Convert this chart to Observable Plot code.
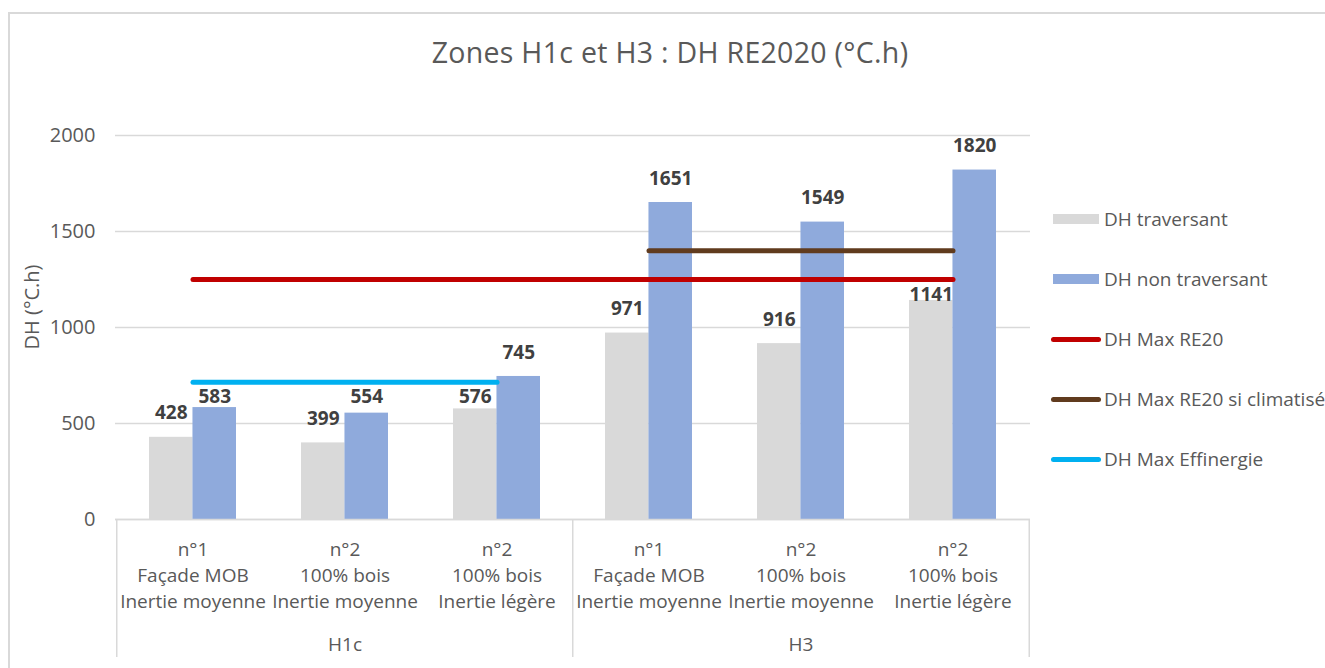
<!DOCTYPE html>
<html>
<head>
<meta charset="utf-8">
<script src="https://cdn.jsdelivr.net/npm/d3@7"></script>
<script src="https://cdn.jsdelivr.net/npm/@observablehq/plot@0.6"></script>
<style>
  body { margin: 0; background: #fff; }
  #wrap { position: relative; width: 1325px; height: 668px; overflow: hidden; background: #fff; font-family: "Open Sans", sans-serif; color: #595959; }
  #frame { position: absolute; left: 8px; top: 12px; width: 1400px; height: 700px; border-left: 2.5px solid #d9d9d9; border-top: 2.5px solid #d9d9d9; }
  #title { position: absolute; left: 0; top: 34px; width: 1340px; text-align: center; font-size: 28.5px; letter-spacing: 0.3px; line-height: 36px; color: #595959; }
  #chart { position: absolute; left: 0; top: 0; }
  #legend { position: absolute; left: 1050px; top: 0; }
  .item { position: absolute; left: 0; height: 30px; white-space: nowrap; font-size: 19px; line-height: 30px; color: #595959; }
  .sw { position: absolute; left: 2px; }
  .lbl { position: absolute; left: 54px; top: 0; }
</style>
</head>
<body>
<div id="wrap">
  <div id="frame"></div>
  <div id="title">Zones H1c et H3 : DH RE2020 (°C.h)</div>
  <div id="chart"></div>
  <div id="legend"></div>
</div>
<script>
// ---------- data ----------
const zones = ["H1c", "H1c", "H1c", "H3", "H3", "H3"];
const configurations = [
  "n°1\nFaçade MOB\nInertie moyenne",
  "n°2\n100% bois\nInertie moyenne",
  "n°2\n100% bois\nInertie légère",
  "n°1\nFaçade MOB\nInertie moyenne",
  "n°2\n100% bois\nInertie moyenne",
  "n°2\n100% bois\nInertie légère"
];
const dhTraversant    = [428, 399, 576, 971, 916, 1141];
const dhNonTraversant = [583, 554, 745, 1651, 1549, 1820];
const dhMaxRE20       = [1250, 1250, 1250, 1250, 1250, 1250];
const dhMaxRE20Clim   = [null, null, null, 1400, 1400, 1400];
const dhMaxEffinergie = [715, 715, 715, null, null, null];
const yTicks = [0, 500, 1000, 1500, 2000];
const seriesNames = ["DH traversant", "DH non traversant", "DH Max RE20", "DH Max RE20 si climatisé", "DH Max Effinergie"];

// ---------- layout / style ----------
const W = 1325, H = 668, ML = 115, MR = 295, MT = 135, MB = 149;
const PAD_INNER = 0.43;
const step = (W - ML - MR) / zones.length;
const bw = step * (1 - PAD_INNER);
const pxPerUnit = (H - MT - MB) / (yTicks[yTicks.length - 1] - yTicks[0]);
const colors = {
  trav: "#d9d9d9", nontrav: "#8faadc",
  re20: "#c00000", clim: "#603b1e", eff: "#00b0f0"
};
const LABEL_DY = -24, BELOW_LINE_DY = 15;

const keys = zones.map((z, i) => z + "|" + configurations[i]);

const bars = [];
keys.forEach((k, i) => {
  bars.push({key: k, i, series: "trav", value: dhTraversant[i]});
  bars.push({key: k, i, series: "nontrav", value: dhNonTraversant[i]});
});

const lineSeries = [
  {name: "re20", values: dhMaxRE20},
  {name: "clim", values: dhMaxRE20Clim},
  {name: "eff", values: dhMaxEffinergie}
];
const lineRows = lineSeries.map(s => keys.map((k, i) => ({key: k, v: s.values[i]})));

// label placement: avoid overlapping a threshold line (moved just below it)
const labels = bars.map(b => {
  const centerPx = b.value * pxPerUnit - LABEL_DY;
  let anchor = b.value, dy = LABEL_DY;
  for (const s of lineSeries) {
    const L = s.values[b.i];
    if (L != null && Math.abs(centerPx - L * pxPerUnit) < 13) { anchor = L; dy = BELOW_LINE_DY; }
  }
  return {...b, anchor, dy};
});

// zone group labels and separators
const zoneNames = [...new Set(zones)];
const zoneLabels = zoneNames.map(z => {
  const ks = keys.filter((k, i) => zones[i] === z);
  return {key: ks[Math.floor(ks.length / 2)], name: z};
});
const zoneStarts = zoneNames.map(z => keys[zones.indexOf(z)]);

const textMark = (data, dx, dy) => Plot.text(data, {
  x: "key", y: "anchor", text: d => String(d.value), dx, dy,
  fontSize: 19, fontWeight: "bold", fill: "#404040"
});

const chart = Plot.plot({
  width: W, height: H,
  marginLeft: ML, marginRight: MR, marginTop: MT, marginBottom: MB,
  style: {fontFamily: "'Open Sans', sans-serif", fontSize: "19px", color: "#595959", background: "transparent", overflow: "visible"},
  x: {type: "band", domain: keys, paddingInner: PAD_INNER, paddingOuter: PAD_INNER / 2},
  y: {domain: [0, 2000]},
  marks: [
    Plot.gridY(yTicks, {stroke: "#d9d9d9", strokeOpacity: 1, strokeWidth: 1.3}),
    Plot.axisY({ticks: yTicks, tickSize: 0, tickPadding: 20, fontSize: 20, tickFormat: d => String(d), label: null}),
    Plot.barY(bars.filter(d => d.series === "trav"), {x: "key", y: "value", fill: colors.trav, insetRight: bw / 2}),
    Plot.barY(bars.filter(d => d.series === "nontrav"), {x: "key", y: "value", fill: colors.nontrav, insetLeft: bw / 2}),
    Plot.ruleY([0], {stroke: "#d9d9d9", strokeWidth: 1.5}),
    ...lineSeries.map((s, j) => Plot.lineY(lineRows[j], {x: "key", y: "v", stroke: colors[s.name], strokeWidth: 5, strokeLinecap: "round"})),
    ...["trav", "nontrav"].flatMap(s => {
      const ls = labels.filter(d => d.series === s);
      const dx = s === "trav" ? -bw / 4 : bw / 4;
      return [
        textMark(ls.filter(d => d.dy === LABEL_DY), dx, LABEL_DY),
        textMark(ls.filter(d => d.dy === BELOW_LINE_DY), dx, BELOW_LINE_DY)
      ];
    }),
    Plot.axisX({tickSize: 0, tickPadding: 18, fontSize: 19, lineHeight: 1.36, tickFormat: k => k.split("|")[1], label: null}),
    Plot.text(zoneLabels, {x: "key", text: "name", frameAnchor: "bottom", dy: 131, fontSize: 19, fill: "#595959"}),
    Plot.ruleX(zoneStarts, {stroke: "#d9d9d9", strokeWidth: 1.5, dx: -step / 2, insetTop: H - MT - MB, insetBottom: -138}),
    Plot.ruleX([keys[keys.length - 1]], {stroke: "#d9d9d9", strokeWidth: 1.5, dx: step / 2, insetTop: H - MT - MB, insetBottom: -138})
  ]
});
document.getElementById("chart").appendChild(chart);

// y-axis title
const yTitle = document.createElement("div");
yTitle.textContent = "DH (°C.h)";
Object.assign(yTitle.style, {position: "absolute", left: "31px", top: "307px", transform: "translate(-50%,-50%) rotate(-90deg)", fontSize: "20px", color: "#595959", whiteSpace: "nowrap"});
document.getElementById("wrap").appendChild(yTitle);

// legend
const legend = document.getElementById("legend");
const legendItems = [
  {name: seriesNames[0], color: colors.trav, type: "rect"},
  {name: seriesNames[1], color: colors.nontrav, type: "rect"},
  {name: seriesNames[2], color: colors.re20, type: "line"},
  {name: seriesNames[3], color: colors.clim, type: "line"},
  {name: seriesNames[4], color: colors.eff, type: "line"}
];
legendItems.forEach((it, i) => {
  const row = document.createElement("div");
  row.className = "item";
  row.style.top = (204 + i * 60) + "px";
  const sw = document.createElement("div");
  sw.className = "sw";
  if (it.type === "rect") {
    Object.assign(sw.style, {left: "3px", top: "10px", width: "46px", height: "10px", background: it.color});
  } else {
    Object.assign(sw.style, {left: "1px", top: "12.5px", width: "50px", height: "5px", background: it.color, borderRadius: "3px"});
  }
  const lb = document.createElement("span");
  lb.className = "lbl";
  lb.textContent = it.name;
  row.appendChild(sw); row.appendChild(lb);
  legend.appendChild(row);
});
</script>
</body>
</html>
